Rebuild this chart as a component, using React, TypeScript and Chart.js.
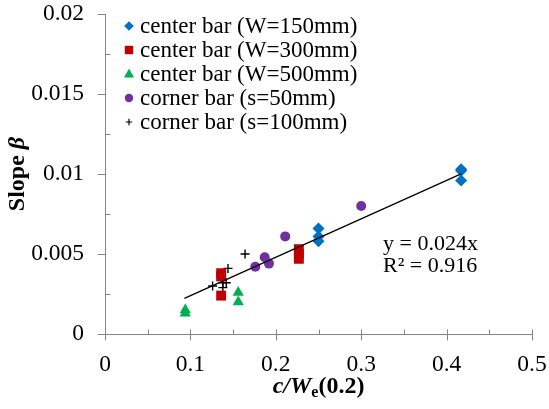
import React, { useEffect, useRef } from 'react';
import { Chart, registerables } from 'chart.js';

Chart.register(...registerables);

// ---- data ----
const blueX = [0.417, 0.417, 0.417, 0.25, 0.25, 0.25];
const blueY = [0.0103, 0.0102, 0.0096, 0.0066, 0.0061, 0.0058];
const redX = [0.136, 0.136, 0.136, 0.227, 0.227, 0.227];
const redY = [0.0038, 0.0036, 0.0024, 0.0053, 0.005, 0.0047];
const greenX = [0.094, 0.094, 0.156, 0.156];
const greenY = [0.0015, 0.0013, 0.0026, 0.002];
const purpleX = [0.176, 0.187, 0.192, 0.211, 0.3];
const purpleY = [0.0042, 0.0048, 0.0044, 0.0061, 0.008];
const crossX = [0.126, 0.138, 0.142, 0.138, 0.144, 0.164];
const crossY = [0.003, 0.0032, 0.0032, 0.0029, 0.0041, 0.005];

const trendSlope = 0.024;
const trendX = [0.093, 0.417];
const trendLabel = 'y = 0.024x';
const r2Label = 'R² = 0.916';

const seriesNames = [
  'center bar (W=150mm)',
  'center bar (W=300mm)',
  'center bar (W=500mm)',
  'corner bar (s=50mm)',
  'corner bar (s=100mm)',
];
const xTickLabels = ['0', '0.1', '0.2', '0.3', '0.4', '0.5'];
const yTickLabels = ['0', '0.005', '0.01', '0.015', '0.02'];

const FONT = "'Liberation Serif', 'Times New Roman', serif";
const AXIS_GRAY = '#868686';
const colors = ['#0070C0', '#C00000', '#00B050', '#7030A0', '#000000'];
const styles = ['rectRot', 'rect', 'triangle', 'circle', 'cross'];

const zip = (xs: number[], ys: number[]) => xs.map((x, i) => ({ x, y: ys[i] }));

function drawMarker(ctx: CanvasRenderingContext2D, style: string, x: number, y: number, r: number, color: string) {
  ctx.save();
  ctx.fillStyle = color;
  ctx.strokeStyle = color;
  ctx.beginPath();
  if (style === 'rectRot') {
    ctx.moveTo(x, y - r);
    ctx.lineTo(x + r, y);
    ctx.lineTo(x, y + r);
    ctx.lineTo(x - r, y);
    ctx.closePath();
    ctx.fill();
  } else if (style === 'rect') {
    ctx.fillRect(x - r, y - r, 2 * r, 2 * r);
  } else if (style === 'triangle') {
    ctx.moveTo(x, y - r * 1.1);
    ctx.lineTo(x + r, y + r * 0.7);
    ctx.lineTo(x - r, y + r * 0.7);
    ctx.closePath();
    ctx.fill();
  } else if (style === 'circle') {
    ctx.arc(x, y, r, 0, Math.PI * 2);
    ctx.fill();
  } else {
    ctx.lineWidth = 1.2;
    ctx.moveTo(x - r, y);
    ctx.lineTo(x + r, y);
    ctx.moveTo(x, y - r);
    ctx.lineTo(x, y + r);
    ctx.stroke();
  }
  ctx.restore();
}

function drawParts(ctx: CanvasRenderingContext2D, parts: { t: string; f: string; dy?: number }[], cx: number, y: number) {
  let total = 0;
  for (const p of parts) {
    ctx.font = p.f;
    total += ctx.measureText(p.t).width;
  }
  let x = cx - total / 2;
  for (const p of parts) {
    ctx.font = p.f;
    ctx.fillText(p.t, x, y + (p.dy || 0));
    x += ctx.measureText(p.t).width;
  }
}

const overlay = {
  id: 'overlay',
  afterDraw(chart: any) {
    const ctx: CanvasRenderingContext2D = chart.ctx;
    const xs = chart.scales.x;
    const ys = chart.scales.y;
    const { left, right, top, bottom } = chart.chartArea;
    ctx.save();
    // axes
    ctx.strokeStyle = AXIS_GRAY;
    ctx.lineWidth = 1;
    ctx.beginPath();
    ctx.moveTo(Math.round(left) + 0.5, top);
    ctx.lineTo(Math.round(left) + 0.5, Math.round(bottom) + 0.5);
    ctx.lineTo(right, Math.round(bottom) + 0.5);
    ctx.stroke();
    // y ticks
    ctx.beginPath();
    for (let i = 0; i <= 8; i++) {
      const v = i * 0.0025;
      const py = Math.round(ys.getPixelForValue(v)) + 0.5;
      const lx = Math.round(left) + 0.5;
      if (i % 2 === 0) {
        ctx.moveTo(lx - 8, py);
        ctx.lineTo(lx, py);
      } else {
        ctx.moveTo(lx, py);
        ctx.lineTo(lx + 5, py);
      }
    }
    // x ticks
    for (let i = 0; i <= 10; i++) {
      const v = i * 0.05;
      const px = Math.round(xs.getPixelForValue(v)) + 0.5;
      const by = Math.round(bottom) + 0.5;
      if (i % 2 === 0) {
        ctx.moveTo(px, by - 5);
        ctx.lineTo(px, by + 6);
      } else {
        ctx.moveTo(px, by - 5);
        ctx.lineTo(px, by);
      }
    }
    ctx.stroke();

    // legend
    ctx.textBaseline = 'middle';
    ctx.textAlign = 'left';
    const rows = [26, 50, 74, 98, 122];
    const sizes = [4.8, 4.2, 5, 4.2, 3.2];
    seriesNames.forEach((name, i) => {
      drawMarker(ctx, styles[i], 129, rows[i], sizes[i], colors[i]);
      ctx.fillStyle = '#000';
      ctx.font = `23px ${FONT}`;
      ctx.fillText(name, 140, rows[i] + 1);
    });

    // trend annotation
    ctx.fillStyle = '#000';
    ctx.font = `22px ${FONT}`;
    ctx.fillText(trendLabel, 383, 244);
    ctx.fillText(r2Label, 383, 266);

    // x title
    ctx.textBaseline = 'alphabetic';
    drawParts(
      ctx,
      [
        { t: 'c/W', f: `italic bold 24px ${FONT}` },
        { t: 'e', f: `bold 16px ${FONT}`, dy: 4 },
        { t: '(0.2)', f: `bold 24px ${FONT}` },
      ],
      (left + right) / 2,
      393
    );

    // y title
    ctx.save();
    ctx.translate(24, 174);
    ctx.rotate(-Math.PI / 2);
    drawParts(
      ctx,
      [
        { t: 'Slope ', f: `bold 24px ${FONT}` },
        { t: 'β', f: `italic bold 24px ${FONT}` },
      ],
      0,
      0
    );
    ctx.restore();
    ctx.restore();
  },
};

export default function App() {
  const ref = useRef<HTMLCanvasElement>(null);
  useEffect(() => {
    document.body.style.margin = '0';
    const canvas = ref.current;
    if (!canvas) return;
    const markerDs = (xs: number[], ys: number[], i: number, r: number) => ({
      label: seriesNames[i],
      data: zip(xs, ys),
      pointStyle: styles[i],
      pointRadius: r,
      pointHoverRadius: r,
      backgroundColor: colors[i],
      borderColor: colors[i],
      borderWidth: styles[i] === 'cross' ? 1.4 : 0,
      showLine: false,
      order: 1 + i,
    });
    const chart = new Chart(canvas, {
      type: 'scatter',
      data: {
        datasets: [
          {
            type: 'line',
            label: 'trend',
            data: trendX.map((x) => ({ x, y: trendSlope * x })),
            borderColor: '#000',
            borderWidth: 1.3,
            pointRadius: 0,
            fill: false,
            order: 0,
          } as any,
          markerDs(blueX, blueY, 0, 6),
          markerDs(redX, redY, 1, 7),
          markerDs(greenX, greenY, 2, 6.5),
          markerDs(purpleX, purpleY, 3, 5),
          markerDs(crossX, crossY, 4, 4.5),
        ],
      },
      options: {
        animation: false,
        responsive: false,
        devicePixelRatio: 1,
        layout: { padding: { top: 14, right: 17, left: 0, bottom: 0 } },
        plugins: { legend: { display: false }, tooltip: { enabled: false } },
        scales: {
          x: {
            type: 'linear',
            min: 0,
            max: 0.5,
            afterFit: (s: any) => {
              s.height = 75;
              s.paddingLeft = 0;
              s.paddingRight = 0;
            },
            grid: { display: false },
            border: { display: false },
            ticks: {
              stepSize: 0.1,
              padding: 9,
              color: '#000',
              font: { family: FONT, size: 23.5 },
              callback: (v: any) => xTickLabels[Math.round(Number(v) / 0.1)],
            },
          },
          y: {
            type: 'linear',
            min: 0,
            max: 0.02,
            afterFit: (s: any) => {
              s.width = 105;
              s.paddingTop = 0;
              s.paddingBottom = 0;
            },
            grid: { display: false },
            border: { display: false },
            ticks: {
              stepSize: 0.005,
              padding: 13,
              color: '#000',
              font: { family: FONT, size: 23.5 },
              callback: (v: any) => yTickLabels[Math.round(Number(v) / 0.005)],
            },
          },
        },
      } as any,
      plugins: [overlay],
    });
    return () => chart.destroy();
  }, []);
  return (
    <div style={{ width: 549, height: 409 }}>
      <canvas ref={ref} width={549} height={409} />
    </div>
  );
}
